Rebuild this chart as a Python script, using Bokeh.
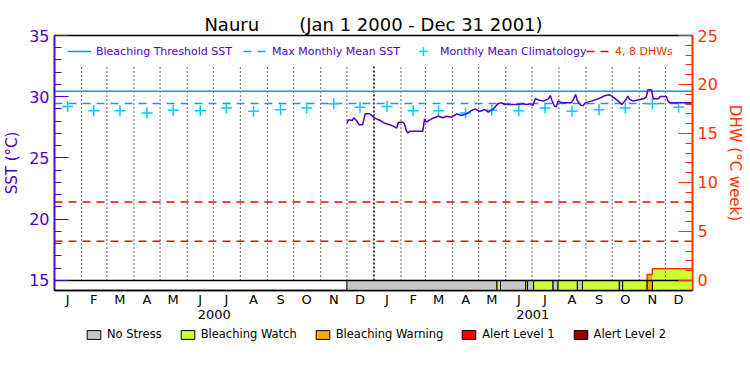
import pandas as pd
from bokeh.plotting import figure
from bokeh.layouts import column
from bokeh.models import Range1d, LinearAxis, FixedTicker, Legend, LegendItem, Title
from bokeh.embed import file_html
from bokeh.resources import INLINE

# ---------------- data ----------------
title_text = "Nauru\u00a0\u00a0\u00a0\u00a0\u00a0\u00a0\u00a0(Jan 1 2000 - Dec 31 2001)"
period_start = "2000-01-01"
period_end = "2002-01-01"
month_letters = ["J", "F", "M", "A", "M", "J", "J", "A", "S", "O", "N", "D"]
year_labels = ["2000", "2001"]

sst_dates = ["2000-12-01", "2000-12-03", "2000-12-07", "2000-12-09", "2000-12-12", "2000-12-15",
             "2000-12-19", "2000-12-22", "2000-12-27", "2000-12-30", "2001-01-02", "2001-01-08",
             "2001-01-13", "2001-01-19", "2001-01-23", "2001-01-27", "2001-01-29", "2001-02-03",
             "2001-02-05", "2001-02-07", "2001-02-09", "2001-02-11", "2001-02-26", "2001-02-28",
             "2001-03-02", "2001-03-08", "2001-03-16", "2001-03-21", "2001-03-25", "2001-03-31",
             "2001-04-06", "2001-04-11", "2001-04-17", "2001-04-23", "2001-04-27", "2001-05-02",
             "2001-05-08", "2001-05-12", "2001-05-18", "2001-05-23", "2001-05-27", "2001-05-31",
             "2001-06-08", "2001-06-15", "2001-06-21", "2001-06-25", "2001-06-29", "2001-07-02",
             "2001-07-05", "2001-07-08", "2001-07-14", "2001-07-20", "2001-07-22", "2001-07-24",
             "2001-07-27", "2001-07-29", "2001-07-31", "2001-08-05", "2001-08-15", "2001-08-18",
             "2001-08-20", "2001-08-22", "2001-08-26", "2001-08-29", "2001-08-31", "2001-09-07",
             "2001-09-15", "2001-09-23", "2001-09-28", "2001-10-02", "2001-10-08", "2001-10-12",
             "2001-10-16", "2001-10-19", "2001-10-21", "2001-10-25", "2001-10-31", "2001-11-06",
             "2001-11-09", "2001-11-11", "2001-11-15", "2001-11-17", "2001-11-23", "2001-11-25",
             "2001-12-02", "2001-12-04", "2001-12-06", "2001-12-31"]
sst_values = [27.84, 28.12, 28.06, 28.28, 28.06, 27.71, 27.71, 28.61, 28.61, 28.44, 28.25, 28.06,
              27.84, 27.71, 27.60, 27.43, 27.92, 27.92, 27.79, 27.24, 27.03, 27.19, 27.19, 28.20,
              27.92, 28.20, 28.41, 28.28, 28.41, 28.33, 28.61, 28.47, 28.61, 28.88, 29.01, 28.80,
              28.96, 28.74, 29.01, 29.42, 29.50, 29.37, 29.37, 29.37, 29.42, 29.37, 29.42, 29.29,
              29.83, 29.75, 29.64, 29.83, 30.10, 29.69, 29.20, 29.20, 29.64, 29.50, 29.50, 29.83,
              30.18, 29.69, 29.29, 29.29, 29.50, 29.64, 29.83, 30.10, 30.16, 29.97, 29.64, 29.37,
              29.69, 30.05, 29.78, 29.64, 29.75, 29.83, 29.97, 30.57, 30.57, 29.83, 29.83, 30.02,
              30.02, 29.64, 29.50, 29.50]

clim_values = [29.20, 28.85, 28.85, 28.68, 28.90, 28.85, 29.08, 28.82, 28.93, 29.08, 29.42, 29.15]
mmm_sst = 29.45
threshold_sst = 30.45
dhw_levels = [4, 8]

status_names = ["No Stress", "Bleaching Watch", "Bleaching Warning", "Alert Level 1", "Alert Level 2"]
status_colors = ["#c8c8c8", "#ccff33", "#ffaa00", "#ff0000", "#990000"]
status_start = ["2000-12-01", "2001-05-22", "2001-05-26", "2001-06-24", "2001-06-26", "2001-07-03",
                "2001-07-25", "2001-07-31", "2001-08-22", "2001-08-28", "2001-10-09", "2001-10-13",
                "2001-11-10", "2001-11-16"]
status_end = ["2001-05-22", "2001-05-26", "2001-06-24", "2001-06-26", "2001-07-03", "2001-07-25",
              "2001-07-31", "2001-08-22", "2001-08-28", "2001-10-09", "2001-10-13", "2001-11-10",
              "2001-11-16", "2002-01-01"]
status_level = [0, 1, 0, 1, 0, 1, 0, 1, 0, 1, 0, 1, 2, 1]

dhw_start = ["2001-11-10", "2001-11-16"]
dhw_end = ["2001-11-16", "2002-01-01"]
dhw_values = [0.6, 1.2]
dhw_level = [2, 1]

sst_ticks = [15, 20, 25, 30, 35]
dhw_ticks = [0, 5, 10, 15, 20, 25]

# ---------------- styles ----------------
PURPLE = "#5000c8"
ORANGE = "#ff3300"
FONT = "DejaVu Sans"
SST_MIN, SST_MAX = 15, 35
DHW_MAX = 25
BAR_DEPTH = 0.82          # status bar depth below SST_MIN, in deg C
GRID_TOP = 32.5
NAN = float("nan")

origin = pd.Timestamp(period_start)


def to_day(dates):
    return [int((pd.Timestamp(d) - origin).days) for d in dates]


x_end = to_day([period_end])[0]
month_starts = to_day(pd.date_range(period_start, period_end, freq="MS"))
month_mids = [(a + b) // 2 for a, b in zip(month_starts[:-1], month_starts[1:])]
year_starts = to_day(pd.date_range(period_start, period_end, freq="YS"))
year_mids = [(a + b) // 2 for a, b in zip(year_starts[:-1], year_starts[1:])]

sst_lo = SST_MIN - BAR_DEPTH
scale = DHW_MAX / (SST_MAX - SST_MIN)
dhw_lo = (sst_lo - SST_MIN) * scale

p = figure(frame_width=638, frame_height=255, x_range=Range1d(0, x_end),
           y_range=Range1d(sst_lo, SST_MAX),
           output_backend="svg", toolbar_location=None,
           min_border_left=48, min_border_right=48, min_border_top=27, min_border_bottom=0)
p.extra_y_ranges = {"dhw": Range1d(dhw_lo, DHW_MAX)}
p.xgrid.visible = False
p.ygrid.visible = False
p.outline_line_color = "black"
p.outline_line_width = 1.5

# outermost top element: small blank spacer; real title sits below it
p.title.text = "\u00a0"
p.title.text_font_size = "8px"
p.title.standoff = 0
main_title = Title(text=title_text, align="center", text_font=FONT, text_font_size="18px",
                   text_font_style="normal", text_color="black", standoff=1)
p.add_layout(main_title, "above")

# status bar
for lvl, col in enumerate(status_colors):
    idx = [i for i, s in enumerate(status_level) if s == lvl]
    if idx:
        p.quad(left=to_day([status_start[i] for i in idx]),
               right=to_day([status_end[i] for i in idx]),
               bottom=sst_lo, top=SST_MIN, fill_color=col, line_color="black", line_width=1)

# DHW filled area
p.quad(left=to_day(dhw_start), right=to_day(dhw_end), bottom=0, top=dhw_values,
       fill_color=[status_colors[s] for s in dhw_level], line_color=None, y_range_name="dhw")
step_x = to_day(dhw_start[:1] + dhw_start + dhw_end[-1:])
step_y = [0] + dhw_values + dhw_values[-1:]
p.step(step_x, step_y, mode="after", line_color=ORANGE, line_width=1.5, y_range_name="dhw")

# DHW zero line (top of status bar)
p.line([0, x_end], [SST_MIN, SST_MIN], line_color="black", line_width=1.5)

# dotted month separators
inner = month_starts[1:-1]
regular = [m for m in inner if m not in year_starts]
p.segment(x0=regular, x1=regular, y0=SST_MIN, y1=GRID_TOP, line_color="black",
          line_dash="1 3", line_width=1.2)
yb = [m for m in inner if m in year_starts]
p.segment(x0=yb, x1=yb, y0=SST_MIN, y1=GRID_TOP, line_color="black",
          line_dash="2 2", line_width=1.5)

# reference lines
thr = p.line([0, x_end], [threshold_sst, threshold_sst], line_color="#0099ff", line_width=1.5)
mmm = p.line([0, x_end], [mmm_sst, mmm_sst], line_color="#1e90ff", line_width=1.5,
             line_dash="8 6")
dl = None
for lv in dhw_levels:
    dl = p.line([0, x_end], [lv, lv], line_color="#ff0000", line_width=1.5, line_dash="8 6",
                y_range_name="dhw")

clim = p.scatter(month_mids, clim_values * len(year_labels), marker="cross", size=11,
                 line_color="#00ccff", line_width=1.5)

p.line(to_day(sst_dates), sst_values, line_color=PURPLE, line_width=1.5)

# ---------------- axes ----------------
def style_y(ax, col):
    ax.axis_line_color = col
    ax.axis_line_width = 1.5
    ax.major_tick_line_color = col
    ax.minor_tick_line_color = col
    ax.major_tick_in = 14
    ax.major_tick_out = 0
    ax.minor_tick_in = 7
    ax.minor_tick_out = 0
    ax.major_label_text_color = col
    ax.major_label_text_font = FONT
    ax.major_label_text_font_size = "16px"
    ax.major_label_standoff = 5
    ax.axis_label_text_color = col
    ax.axis_label_text_font = FONT
    ax.axis_label_text_font_size = "15px"
    ax.axis_label_text_font_style = "normal"
    ax.axis_label_standoff = 5


def style_x(ax, standoff):
    ax.major_tick_line_color = None
    ax.minor_tick_line_color = None
    ax.major_tick_in = 0
    ax.major_tick_out = 0
    ax.minor_tick_in = 0
    ax.minor_tick_out = 0
    ax.major_label_text_font = FONT
    ax.major_label_text_font_size = "13px"
    ax.major_label_text_color = "black"
    ax.major_label_standoff = standoff


ya = p.yaxis[0]
ya.ticker = FixedTicker(ticks=sst_ticks, minor_ticks=list(range(SST_MIN, SST_MAX + 1)))
ya.axis_label = "SST (\u00b0C)"
style_y(ya, PURPLE)

ra = LinearAxis(y_range_name="dhw",
                ticker=FixedTicker(ticks=dhw_ticks, minor_ticks=list(range(0, DHW_MAX + 1))),
                axis_label="DHW (\u00b0C week)")
style_y(ra, ORANGE)
p.add_layout(ra, "right")

xa = p.xaxis[0]
xa.ticker = FixedTicker(ticks=month_mids, minor_ticks=[])
xa.major_label_overrides = {m: l for m, l in zip(month_mids, month_letters * len(year_labels))}
xa.axis_line_color = "black"
xa.axis_line_width = 1.5
style_x(xa, 1)

xa2 = LinearAxis(ticker=FixedTicker(ticks=year_mids, minor_ticks=[]))
xa2.major_label_overrides = {m: l for m, l in zip(year_mids, year_labels)}
xa2.axis_line_color = None
style_x(xa2, 0)
p.add_layout(xa2, "below")

# ---------------- legends ----------------
common = dict(orientation="horizontal", background_fill_alpha=0, border_line_color=None,
              glyph_width=24, glyph_height=22, label_height=12, label_standoff=5, spacing=11,
              padding=0, margin=0, label_text_font=FONT, label_text_font_size="11px")
leg1 = Legend(items=[LegendItem(label="Bleaching Threshold SST", renderers=[thr]),
                     LegendItem(label="Max Monthly Mean SST", renderers=[mmm]),
                     LegendItem(label="Monthly Mean Climatology", renderers=[clim])],
              location=(13, 228), label_text_color=PURPLE, **common)
leg2 = Legend(items=[LegendItem(label="4, 8 DHWs", renderers=[dl])],
              location=(532, 228), label_text_color=ORANGE, **common)
p.add_layout(leg1)
p.add_layout(leg2)

# ---------------- status legend (own strip below the chart) ----------------
q = figure(width=734, height=22, x_range=Range1d(0, 1), y_range=Range1d(0, 1),
           output_backend="svg", toolbar_location=None, min_border=0)
q.axis.visible = False
q.xgrid.visible = False
q.ygrid.visible = False
q.outline_line_color = None
status_proxies = [q.quad(left=[NAN], right=[NAN], bottom=[NAN], top=[NAN], fill_color=col,
                         line_color="black", line_width=1) for col in status_colors]
leg3 = Legend(items=[LegendItem(label=n, renderers=[r]) for n, r in zip(status_names, status_proxies)],
              orientation="horizontal", location=(31, 2), background_fill_alpha=0,
              border_line_color=None, glyph_width=17, glyph_height=11, label_height=11,
              label_standoff=5, spacing=17, padding=0, margin=0, label_text_font=FONT,
              label_text_font_size="11.5px", label_text_color="black")
q.add_layout(leg3)

layout = column(p, q, spacing=0)
open("out.html", "w").write(file_html(layout, INLINE))
